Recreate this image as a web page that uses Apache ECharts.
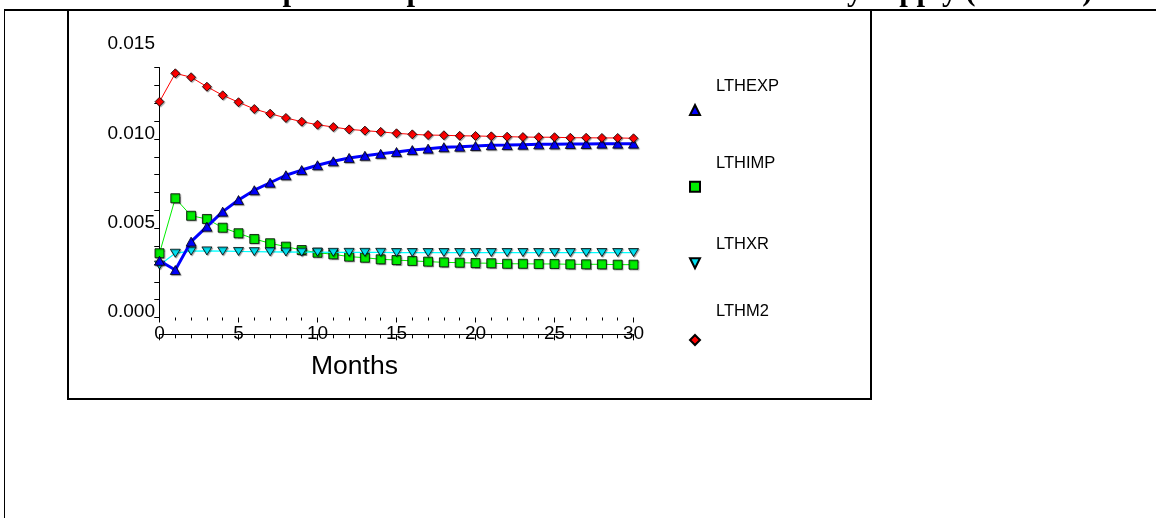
<!DOCTYPE html>
<html>
<head>
<meta charset="utf-8">
<script src="https://cdn.jsdelivr.net/npm/echarts@6/dist/echarts.min.js"></script>
<style>
  html, body { margin: 0; padding: 0; background: #fff; width: 1156px; height: 518px; overflow: hidden; }
  #chart { position: absolute; left: 0; top: 0; width: 1156px; height: 518px; }
  .rule { position: absolute; background: #000; pointer-events: none; }
  .box { position: absolute; border: 2px solid #000; pointer-events: none; }
</style>
</head>
<body>
<div id="chart"></div>
<!-- page table rules and the frame around the figure -->
<div class="rule" style="left:4px;top:9px;width:1152px;height:2px"></div>
<div class="rule" style="left:4px;top:9px;width:1px;height:509px"></div>
<div class="box" style="left:67px;top:9px;width:801px;height:387px"></div>
<script>
// Generalized impulse responses to a one-SE shock in money supply (LTHM2)
const chartTitle = 'Generalized Impulse Response function with one SE Money supply (LTHM2)';
const axisTitle = 'Months';
const seriesNames = ['LTHEXP', 'LTHIMP', 'LTHXR', 'LTHM2'];

const months = [0, 1, 2, 3, 4, 5, 6, 7, 8, 9, 10, 11, 12, 13, 14, 15, 16, 17, 18, 19, 20,
                21, 22, 23, 24, 25, 26, 27, 28, 29, 30];
const xTickValues = [0, 5, 10, 15, 20, 25, 30];
const yTickValues = [0.000, 0.005, 0.010, 0.015];

const lthexp = [0.00318, 0.00266, 0.00425, 0.00509, 0.00593, 0.00658, 0.00713, 0.00755, 0.00797, 0.00826,
                0.00853, 0.00875, 0.00894, 0.00906, 0.00917, 0.00927, 0.00938, 0.00946, 0.00954, 0.00957,
                0.00961, 0.00965, 0.00966, 0.00968, 0.00970, 0.00970, 0.00972, 0.00972, 0.00974, 0.00974,
                0.00974];
const lthimp = [0.00360, 0.00668, 0.00570, 0.00552, 0.00503, 0.00472, 0.00440, 0.00416, 0.00397, 0.00378,
                0.00363, 0.00354, 0.00341, 0.00335, 0.00326, 0.00322, 0.00317, 0.00313, 0.00309, 0.00307,
                0.00305, 0.00304, 0.00301, 0.00301, 0.00300, 0.00300, 0.00298, 0.00298, 0.00298, 0.00296,
                0.00296];
const lthxr  = [0.00294, 0.00360, 0.00372, 0.00373, 0.00372, 0.00370, 0.00369, 0.00368, 0.00367, 0.00366,
                0.00366, 0.00365, 0.00365, 0.00365, 0.00365, 0.00364, 0.00364, 0.00364, 0.00364, 0.00364,
                0.00364, 0.00364, 0.00364, 0.00364, 0.00364, 0.00364, 0.00364, 0.00364, 0.00364, 0.00364,
                0.00364];
const lthm2  = [0.01209, 0.01368, 0.01346, 0.01293, 0.01245, 0.01206, 0.01168, 0.01142, 0.01118, 0.01097,
                0.01080, 0.01067, 0.01054, 0.01047, 0.01040, 0.01032, 0.01026, 0.01022, 0.01021, 0.01018,
                0.01017, 0.01015, 0.01013, 0.01011, 0.01010, 0.01010, 0.01007, 0.01007, 0.01006, 0.01006,
                0.01004];

const SANS = "'Liberation Sans',Arial,sans-serif";
const BLACK = '#000';

// plot area: x 0..30, y 0..0.015 (labels) and an axis rule that stops at 0.014
const PLOT_LEFT = 159.5, PLOT_WIDTH = 474;
const Y_ZERO = 317.5, PX_PER_UNIT = 17850;

function pairs(values) { return months.map((m, i) => [m, values[i]]); }

const markerShadow = { shadowColor: 'rgba(0,0,0,0.35)', shadowOffsetX: 1, shadowOffsetY: 1, shadowBlur: 1 };

const seriesStyle = {
  LTHEXP: { symbol: 'triangle', symbolSize: [10, 9], rotate: 0, fill: '#0000ff', line: '#0000ff', width: 3, z: 4 },
  LTHIMP: { symbol: 'rect', symbolSize: 9, rotate: 0, fill: '#00ee00', line: '#00ee00', width: 1, z: 2 },
  LTHXR:  { symbol: 'triangle', symbolSize: [10, 8], rotate: 180, fill: '#00e0f0', line: '#00ffff', width: 1.3, z: 3 },
  LTHM2:  { symbol: 'diamond', symbolSize: 9, rotate: 0, fill: '#ff0000', line: '#ff0000', width: 1, z: 5 }
};
const seriesValues = { LTHEXP: lthexp, LTHIMP: lthimp, LTHXR: lthxr, LTHM2: lthm2 };

// legend rows: marker centre, and how far the name sits above its marker
const legendRows = [
  { marker: 110.0, rise: 23.8 },
  { marker: 186.7, rise: 22.9 },
  { marker: 263.3, rise: 18.6 },
  { marker: 340.0, rise: 28.7 }
];
const LEGEND_FONT = 16.5;

const chart = echarts.init(document.getElementById('chart'), null, { renderer: 'canvas' });

const tickLine = { color: BLACK, width: 1 };

const option = {
  animation: false,
  backgroundColor: 'transparent',
  title: [
    { text: chartTitle, left: 78, top: -23, padding: 0,
      textStyle: { fontFamily: "'Liberation Serif','Times New Roman',serif", fontWeight: 'bold', fontSize: 30.8, color: BLACK } },
    { text: axisTitle, left: 311, top: 353.4, padding: 0,
      textStyle: { fontFamily: SANS, fontWeight: 'normal', fontSize: 26.5, color: BLACK, lineHeight: 26.5 } }
  ],
  grid: [
    { left: PLOT_LEFT, width: PLOT_WIDTH, top: Y_ZERO - 0.015 * PX_PER_UNIT, height: 0.015 * PX_PER_UNIT },
    { left: PLOT_LEFT, width: PLOT_WIDTH, top: Y_ZERO - 0.014 * PX_PER_UNIT, height: 0.014 * PX_PER_UNIT }
  ],
  xAxis: [
    { gridIndex: 0, type: 'value', min: 0, max: 30, interval: 5, offset: 16.8,
      axisLine: { show: true, onZero: false, lineStyle: tickLine },
      axisTick: { show: true, length: 6, lineStyle: tickLine },
      minorTick: { show: true, splitNumber: 5, length: 4, lineStyle: tickLine },
      splitLine: { show: false }, minorSplitLine: { show: false },
      axisLabel: { margin: -1, verticalAlign: 'middle', fontFamily: SANS, fontSize: 19, color: BLACK,
                   formatter: v => (xTickValues.indexOf(v) >= 0 ? String(v) : '') } },
    { gridIndex: 0, type: 'value', min: 0, max: 30, interval: 5, offset: 16.8,
      axisLine: { show: false },
      axisTick: { show: true, inside: true, length: 5, lineStyle: tickLine },
      minorTick: { show: true, splitNumber: 5, length: 3, lineStyle: tickLine },
      splitLine: { show: false }, axisLabel: { show: false } },
    { gridIndex: 1, type: 'value', min: 0, max: 30, show: false }
  ],
  yAxis: [
    { gridIndex: 0, type: 'value', min: 0, max: 0.015, interval: 0.005,
      axisLine: { show: false }, axisTick: { show: false }, splitLine: { show: false },
      axisLabel: { margin: 4.5, fontFamily: SANS, fontSize: 19, color: BLACK,
                   verticalAlign: 'bottom', lineHeight: 11,
                   formatter: v => {
                     const hit = yTickValues.find(t => Math.abs(t - v) < 1e-9);
                     return hit === undefined ? '' : hit.toFixed(3);
                   } } },
    { gridIndex: 1, type: 'value', min: 0, max: 0.014, interval: 0.001,
      axisLine: { show: true, onZero: false, lineStyle: tickLine },
      axisTick: { show: true, length: 5, lineStyle: tickLine },
      splitLine: { show: false }, axisLabel: { show: false } },
    { gridIndex: 1, type: 'value', min: 0, max: 0.014, interval: 0.001,
      axisLine: { show: false },
      axisTick: { show: true, inside: true, length: 5, lineStyle: tickLine },
      splitLine: { show: false }, axisLabel: { show: false } }
  ],
  // each name is set on the first of two lines, so it sits above its marker
  legend: seriesNames.map((name, k) => ({
    data: [name],
    orient: 'vertical',
    left: 687.75,
    top: legendRows[k].marker - 2 * legendRows[k].rise,
    padding: 0,
    itemWidth: 12.5,
    itemHeight: 12.5,
    selectedMode: false,
    lineStyle: { opacity: 0 },
    formatter: n => n + '\n ',
    textStyle: { fontFamily: SANS, fontSize: LEGEND_FONT, lineHeight: 2 * legendRows[k].rise, color: BLACK,
                 padding: [0, 0, 0, 9.75] }
  })),
  series: seriesNames.map(name => {
    const s = seriesStyle[name];
    return {
      type: 'line',
      name: name,
      xAxisIndex: 0,
      yAxisIndex: 0,
      data: pairs(seriesValues[name]),
      symbol: s.symbol,
      symbolSize: s.symbolSize,
      symbolRotate: s.rotate,
      showAllSymbol: true,
      silent: true,
      z: s.z,
      lineStyle: { color: s.line, width: s.width },
      itemStyle: Object.assign({ color: s.fill, borderColor: BLACK, borderWidth: 0.8 }, markerShadow),
      emphasis: { disabled: true }
    };
  })
};

chart.setOption(option);
</script>
</body>
</html>
